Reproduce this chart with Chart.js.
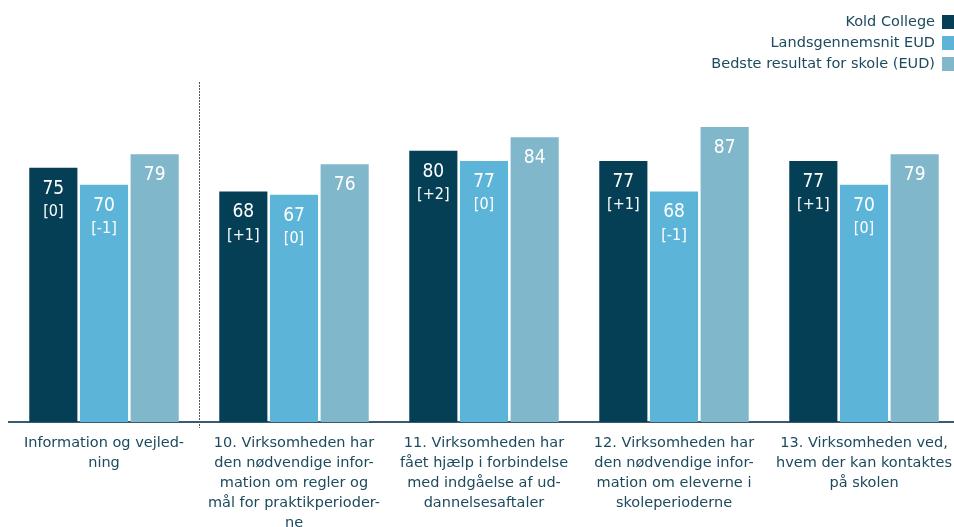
<!DOCTYPE html>
<html>
<head>
<meta charset="utf-8">
<script src="https://cdn.jsdelivr.net/npm/chart.js"></script>
<style>
    body { margin: 0; padding: 0; background: #ffffff; overflow: hidden; }
    #wrap { width: 954px; height: 527px; overflow: hidden; }
</style>
</head>
<body>
<div id="wrap"><canvas id="myChart" width="959" height="527"></canvas></div>
<script>
    // data
    const categories = [
        ["Information og vejled-", "ning"],
        ["10. Virksomheden har", "den nødvendige infor-", "mation om regler og", "mål for praktikperioder-", "ne"],
        ["11. Virksomheden har", "fået hjælp i forbindelse", "med indgåelse af ud-", "dannelsesaftaler"],
        ["12. Virksomheden har", "den nødvendige infor-", "mation om eleverne i", "skoleperioderne"],
        ["13. Virksomheden ved,", "hvem der kan kontaktes", "på skolen"]
    ];
    const koldCollege = [75, 68, 80, 77, 77];
    const koldChange = ["[0]", "[+1]", "[+2]", "[+1]", "[+1]"];
    const landsgennemsnit = [70, 67, 77, 68, 70];
    const landsChange = ["[-1]", "[0]", "[0]", "[-1]", "[0]"];
    const bedsteResultat = [79, 76, 84, 87, 79];

    const FONT = "'DejaVu Sans', sans-serif";
    const NUMFONT = "'DejaVu Sans Condensed', 'DejaVu Sans', sans-serif";
    const TEXT = '#1d4a5d';

    // labels inside the bars
    const barLabels = {
        id: 'barLabels',
        afterDatasetsDraw(chart) {
            const ctx = chart.ctx;
            ctx.save();
            ctx.fillStyle = '#ffffff';
            ctx.textAlign = 'center';
            ctx.textBaseline = 'middle';
            chart.data.datasets.forEach((ds, i) => {
                chart.getDatasetMeta(i).data.forEach((bar, j) => {
                    ctx.font = '19px ' + NUMFONT;
                    ctx.fillText(ds.data[j], bar.x, bar.y + 21);
                    if (ds.changes) {
                        ctx.font = '16px ' + NUMFONT;
                        ctx.fillText(ds.changes[j], bar.x, bar.y + 44);
                    }
                });
            });
            ctx.restore();
        }
    };

    // dotted separator after first category
    const separator = {
        id: 'separator',
        afterDraw(chart) {
            const ctx = chart.ctx;
            const x = Math.round((chart.scales.x.getPixelForValue(0) + chart.scales.x.getPixelForValue(1)) / 2) + 0.5;
            ctx.save();
            ctx.strokeStyle = '#555555';
            ctx.lineWidth = 1;
            ctx.setLineDash([2, 1]);
            ctx.beginPath();
            ctx.moveTo(x, 82);
            ctx.lineTo(x, chart.chartArea.bottom + 6);
            ctx.stroke();
            ctx.restore();
        }
    };

    // legend top right, text then square
    const rightLegend = {
        id: 'rightLegend',
        afterDraw(chart) {
            const ctx = chart.ctx;
            ctx.save();
            ctx.font = '14.5px ' + FONT;
            ctx.textAlign = 'right';
            ctx.textBaseline = 'middle';
            chart.data.datasets.forEach((ds, i) => {
                const y = 22 + i * 21;
                ctx.fillStyle = ds.backgroundColor;
                ctx.fillRect(942, y - 7, 12, 14);
                ctx.fillStyle = TEXT;
                ctx.fillText(ds.label, 935, y);
            });
            ctx.restore();
        }
    };

    const data = {
        labels: categories,
        datasets: [
            { label: 'Kold College', data: koldCollege, changes: koldChange, backgroundColor: '#043f56' },
            { label: 'Landsgennemsnit EUD', data: landsgennemsnit, changes: landsChange, backgroundColor: '#5cb5d9' },
            { label: 'Bedste resultat for skole (EUD)', data: bedsteResultat, backgroundColor: '#80b7cb' }
        ]
    };

    const config = {
        type: 'bar',
        data: data,
        options: {
            responsive: false,
            animation: false,
            layout: { padding: { top: 83, left: 9, right: 0, bottom: 0 } },
            datasets: { bar: { barPercentage: 0.95, categoryPercentage: 0.8 } },
            plugins: {
                legend: { display: false },
                tooltip: { enabled: false }
            },
            scales: {
                x: {
                    grid: { display: false },
                    border: { display: true, color: '#3b5a6e', width: 2 },
                    ticks: {
                        color: TEXT,
                        font: { family: FONT, size: 14.5, lineHeight: 1.38 },
                        maxRotation: 0,
                        autoSkip: false,
                        padding: 3
                    },
                    afterFit(scale) { scale.height = 105; }
                },
                y: {
                    display: false,
                    min: 0,
                    max: 100
                }
            }
        },
        plugins: [barLabels, separator, rightLegend]
    };

    const myChart = new Chart(document.getElementById('myChart'), config);
</script>
</body>
</html>
